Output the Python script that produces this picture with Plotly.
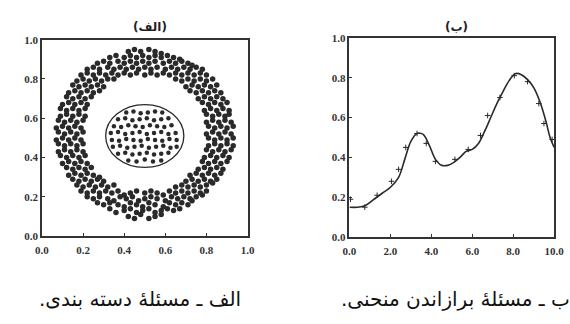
import plotly.graph_objects as go

# ---------------- data: panel (الف) ----------------
ring_x = [
    0.42,0.45,0.48,0.52,0.55,0.58,
    0.33,0.36,0.40,0.43,0.46,0.49,0.52,0.55,0.58,0.61,0.64,0.67,
    0.27,0.30,0.33,0.37,0.40,0.43,0.46,0.49,0.52,0.55,0.59,0.62,0.65,0.68,0.71,0.73,
    0.22,0.25,0.28,0.32,0.35,0.38,0.41,0.44,0.47,0.50,0.53,0.56,0.60,0.63,0.66,0.69,0.72,0.75,0.78,
    0.19,0.22,0.25,0.28,0.31,0.34,0.37,0.40,0.43,0.46,0.50,0.53,0.56,0.59,0.62,0.65,0.68,0.71,0.74,0.77,0.80,
    0.17,0.20,0.23,0.26,0.29,0.32,0.35,0.65,0.68,0.71,0.74,0.77,0.80,0.83,
    0.15,0.18,0.21,0.24,0.27,0.30,0.70,0.73,0.76,0.79,0.82,0.85,
    0.13,0.16,0.19,0.22,0.25,0.28,0.72,0.75,0.78,0.81,0.84,0.87,
    0.12,0.15,0.18,0.21,0.24,0.76,0.79,0.82,0.85,0.88,
    0.10,0.13,0.16,0.19,0.22,0.78,0.81,0.84,0.87,0.90,
    0.09,0.12,0.15,0.18,0.21,0.79,0.82,0.85,0.88,0.91,
    0.08,0.11,0.14,0.17,0.20,0.80,0.83,0.86,0.89,0.92,
    0.08,0.11,0.14,0.17,0.20,0.81,0.84,0.87,0.90,0.93,
    0.07,0.10,0.13,0.16,0.19,0.81,0.84,0.87,0.90,0.93,
    0.08,0.11,0.14,0.17,0.20,0.80,0.83,0.86,0.89,0.92,
    0.07,0.10,0.13,0.16,0.19,0.81,0.84,0.87,0.90,0.93,
    0.08,0.11,0.14,0.17,0.20,0.80,0.83,0.86,0.89,0.92,
    0.09,0.12,0.15,0.18,0.21,0.80,0.83,0.86,0.89,0.91,
    0.09,0.12,0.15,0.18,0.21,0.79,0.82,0.85,0.88,0.91,
    0.10,0.13,0.16,0.19,0.22,0.78,0.81,0.84,0.87,0.90,
    0.12,0.15,0.18,0.21,0.24,0.76,0.79,0.82,0.85,0.88,
    0.13,0.16,0.19,0.22,0.25,0.28,0.72,0.75,0.78,0.81,0.84,0.87,
    0.15,0.18,0.21,0.24,0.27,0.30,0.70,0.73,0.76,0.79,0.82,0.85,
    0.17,0.20,0.23,0.26,0.29,0.32,0.35,0.65,0.68,0.71,0.74,0.77,0.80,0.83,
    0.19,0.22,0.25,0.28,0.31,0.34,0.37,0.40,0.43,0.46,0.50,0.53,0.56,0.59,0.62,0.65,0.68,0.71,0.74,0.77,0.80,
    0.22,0.25,0.28,0.32,0.35,0.38,0.41,0.44,0.47,0.50,0.53,0.56,0.60,0.63,0.66,0.69,0.72,0.75,0.78,
    0.27,0.30,0.33,0.37,0.40,0.43,0.46,0.49,0.52,0.55,0.59,0.62,0.65,0.68,0.71,0.73,
    0.33,0.36,0.40,0.43,0.46,0.49,0.52,0.55,0.58,0.61,0.64,0.67,
    0.42,0.45,0.48,0.52,0.55,0.58,
]
ring_y = [
    0.10,0.09,0.11,0.09,0.10,0.11,
    0.14,0.12,0.13,0.14,0.12,0.13,0.14,0.12,0.13,0.14,0.13,0.14,
    0.17,0.16,0.17,0.16,0.15,0.17,0.16,0.15,0.17,0.16,0.15,0.17,0.16,0.17,0.16,0.18,
    0.20,0.19,0.20,0.19,0.18,0.20,0.19,0.20,0.18,0.19,0.20,0.19,0.18,0.20,0.19,0.20,0.19,0.20,0.21,
    0.23,0.22,0.23,0.22,0.23,0.22,0.23,0.21,0.22,0.23,0.22,0.23,0.22,0.21,0.23,0.22,0.23,0.22,0.23,0.22,0.23,
    0.26,0.25,0.26,0.25,0.26,0.25,0.26,0.25,0.26,0.25,0.26,0.25,0.26,0.27,
    0.29,0.28,0.29,0.28,0.29,0.28,0.28,0.29,0.28,0.29,0.28,0.29,
    0.31,0.32,0.31,0.32,0.31,0.30,0.31,0.32,0.31,0.32,0.31,0.32,
    0.35,0.34,0.35,0.34,0.35,0.34,0.35,0.34,0.35,0.34,
    0.37,0.38,0.37,0.38,0.37,0.38,0.37,0.38,0.37,0.38,
    0.41,0.40,0.41,0.40,0.41,0.40,0.41,0.40,0.41,0.40,
    0.43,0.44,0.43,0.44,0.43,0.44,0.43,0.44,0.43,0.44,
    0.47,0.46,0.47,0.46,0.47,0.46,0.47,0.46,0.47,0.46,
    0.49,0.50,0.49,0.50,0.49,0.50,0.49,0.50,0.49,0.50,
    0.53,0.52,0.53,0.52,0.53,0.52,0.53,0.52,0.53,0.52,
    0.55,0.56,0.55,0.56,0.55,0.56,0.55,0.56,0.55,0.56,
    0.59,0.58,0.59,0.58,0.59,0.58,0.59,0.58,0.59,0.58,
    0.61,0.62,0.61,0.62,0.61,0.62,0.61,0.62,0.61,0.62,
    0.65,0.64,0.65,0.64,0.65,0.64,0.65,0.64,0.65,0.64,
    0.67,0.68,0.67,0.68,0.67,0.68,0.67,0.68,0.67,0.68,
    0.71,0.70,0.71,0.70,0.71,0.70,0.71,0.70,0.71,0.70,
    0.73,0.74,0.73,0.74,0.73,0.74,0.74,0.73,0.74,0.73,0.74,0.73,
    0.77,0.76,0.77,0.76,0.77,0.76,0.76,0.77,0.76,0.77,0.76,0.77,
    0.79,0.80,0.79,0.80,0.79,0.80,0.80,0.80,0.79,0.80,0.79,0.80,0.79,0.80,
    0.82,0.83,0.82,0.83,0.82,0.83,0.82,0.83,0.82,0.83,0.82,0.83,0.82,0.83,0.82,0.83,0.82,0.83,0.82,0.83,0.82,
    0.85,0.86,0.85,0.86,0.85,0.86,0.85,0.86,0.85,0.86,0.85,0.86,0.85,0.86,0.85,0.86,0.85,0.86,0.85,
    0.88,0.89,0.88,0.89,0.88,0.89,0.88,0.89,0.88,0.89,0.88,0.89,0.88,0.89,0.88,0.87,
    0.91,0.92,0.91,0.92,0.91,0.92,0.91,0.92,0.91,0.92,0.91,0.90,
    0.94,0.95,0.94,0.95,0.94,0.93,
]

disc_x = [
    0.42,0.46,0.50,0.54,0.58,
    0.37,0.405,0.44,0.475,0.51,0.545,0.58,0.615,
    0.345,0.38,0.415,0.45,0.485,0.52,0.555,0.59,0.625,0.655,
    0.34,0.375,0.41,0.445,0.48,0.515,0.55,0.585,0.62,0.655,
    0.335,0.37,0.405,0.44,0.475,0.51,0.545,0.58,0.615,0.65,
    0.35,0.385,0.42,0.455,0.49,0.525,0.56,0.595,0.63,
    0.37,0.405,0.44,0.475,0.51,0.545,0.58,0.615,
    0.41,0.445,0.48,0.515,0.55,0.585,
]
disc_y = [
    0.385,0.38,0.39,0.38,0.385,
    0.42,0.425,0.415,0.42,0.425,0.415,0.42,0.425,
    0.455,0.46,0.45,0.455,0.46,0.45,0.455,0.46,0.45,0.455,
    0.49,0.485,0.495,0.49,0.485,0.495,0.49,0.485,0.495,0.49,
    0.525,0.53,0.52,0.525,0.53,0.52,0.525,0.53,0.52,0.525,
    0.56,0.555,0.565,0.56,0.555,0.565,0.56,0.555,0.565,
    0.595,0.60,0.59,0.595,0.60,0.59,0.595,0.60,
    0.63,0.635,0.625,0.63,0.635,0.63,
]
boundary_x = [0.31, 0.69]
boundary_y = [0.35, 0.67]

# ---------------- data: panel (ب) ----------------
curve_x = [0, 0.4, 0.8, 1.2, 1.6, 2.0, 2.4, 2.7, 3.0, 3.3, 3.6, 3.9, 4.2, 4.5, 4.8,
           5.1, 5.4, 5.7, 6.0, 6.3, 6.6, 6.9, 7.2, 7.5, 7.8, 8.1, 8.4, 8.7, 9.0,
           9.3, 9.6, 9.8, 10.0]
curve_y = [0.15, 0.15, 0.16, 0.19, 0.22, 0.25, 0.30, 0.39, 0.48, 0.52, 0.515, 0.46,
           0.39, 0.36, 0.36, 0.375, 0.40, 0.43, 0.44, 0.47, 0.53, 0.60, 0.67, 0.73,
           0.785, 0.82, 0.815, 0.79, 0.75, 0.68, 0.58, 0.50, 0.45]
sample_x = [0.05, 0.75, 1.35, 2.05, 2.4, 2.75, 3.3, 3.75, 4.2, 5.15, 5.8, 6.4,
            6.75, 7.35, 8.05, 8.7, 9.25, 9.5, 9.9]
sample_y = [0.19, 0.15, 0.21, 0.28, 0.34, 0.45, 0.52, 0.47, 0.38, 0.39, 0.44, 0.51,
            0.61, 0.70, 0.81, 0.78, 0.67, 0.57, 0.49]

left_ticks = [0.0, 0.2, 0.4, 0.6, 0.8, 1.0]
right_xticks = [0.0, 2.0, 4.0, 6.0, 8.0, 10.0]

titles = ["(الف)", "(ب)"]
captions = ["\u200fالف ـ مسئلهٔ دسته بندی.\u200f", "\u200fب ـ مسئلهٔ برازاندن منحنی.\u200f"]

INK = "#2a2a2a"
W, H = 570, 324

fig = go.Figure()
fig.add_trace(go.Scatter(x=ring_x, y=ring_y, mode="markers", xaxis="x", yaxis="y",
                         marker=dict(size=5.5, color=INK), showlegend=False))
fig.add_trace(go.Scatter(x=disc_x, y=disc_y, mode="markers", xaxis="x", yaxis="y",
                         marker=dict(size=4.5, color=INK), showlegend=False))
fig.add_shape(type="circle", xref="x", yref="y",
              x0=boundary_x[0], x1=boundary_x[1], y0=boundary_y[0], y1=boundary_y[1],
              line=dict(color=INK, width=1.3))

fig.add_trace(go.Scatter(x=curve_x, y=curve_y, mode="lines", xaxis="x2", yaxis="y2",
                         line=dict(color=INK, width=1.6, shape="spline", smoothing=1.0),
                         showlegend=False))
fig.add_trace(go.Scatter(x=sample_x, y=sample_y, mode="markers", xaxis="x2", yaxis="y2",
                         marker=dict(symbol="cross-thin", size=4, color=INK,
                                     line=dict(color=INK, width=1)),
                         showlegend=False))

tickfont = dict(family="Liberation Serif, Times New Roman, serif", size=11,
                color="#333", weight="bold")
axis_common = dict(showline=True, mirror=True, linecolor="#333", linewidth=1.6,
                   ticks="inside", ticklen=3, tickwidth=1, tickcolor="#333",
                   showgrid=False, zeroline=False, tickfont=tickfont,
                   fixedrange=True, tickformat=".1f")

fig.update_layout(
    width=W, height=H,
    margin=dict(l=0, r=0, t=0, b=0),
    paper_bgcolor="white", plot_bgcolor="white",
    xaxis=dict(domain=[36/W, 248/W], range=[0, 1], tickvals=left_ticks, anchor="y",
               ticklabelstandoff=3, **axis_common),
    yaxis=dict(domain=[1-239/H, 1-35/H], range=[0, 1], tickvals=left_ticks, anchor="x", **axis_common),
    xaxis2=dict(domain=[353/W, 564/W], range=[0, 10], tickvals=right_xticks, anchor="y2",
                ticklabelstandoff=3, **axis_common),
    yaxis2=dict(domain=[1-240/H, 1-33/H], range=[0, 1], tickvals=left_ticks, anchor="x2", **axis_common),
)

title_pos = [(147, 22), (463, 22)]
caption_pos = [(137, 304), (462, 304)]
for t, (px, py) in zip(titles, title_pos):
    fig.add_annotation(text=t, x=px/W, y=1-py/H, xref="paper", yref="paper",
                       xanchor="center", yanchor="middle", showarrow=False,
                       font=dict(family="DejaVu Sans", size=12, color="#222", weight="bold"))
for t, (px, py) in zip(captions, caption_pos):
    fig.add_annotation(text=t, x=px/W, y=1-py/H, xref="paper", yref="paper",
                       xanchor="center", yanchor="middle", showarrow=False,
                       font=dict(family="DejaVu Sans", size=20, color="#111"))

fig.write_html("out.html")
